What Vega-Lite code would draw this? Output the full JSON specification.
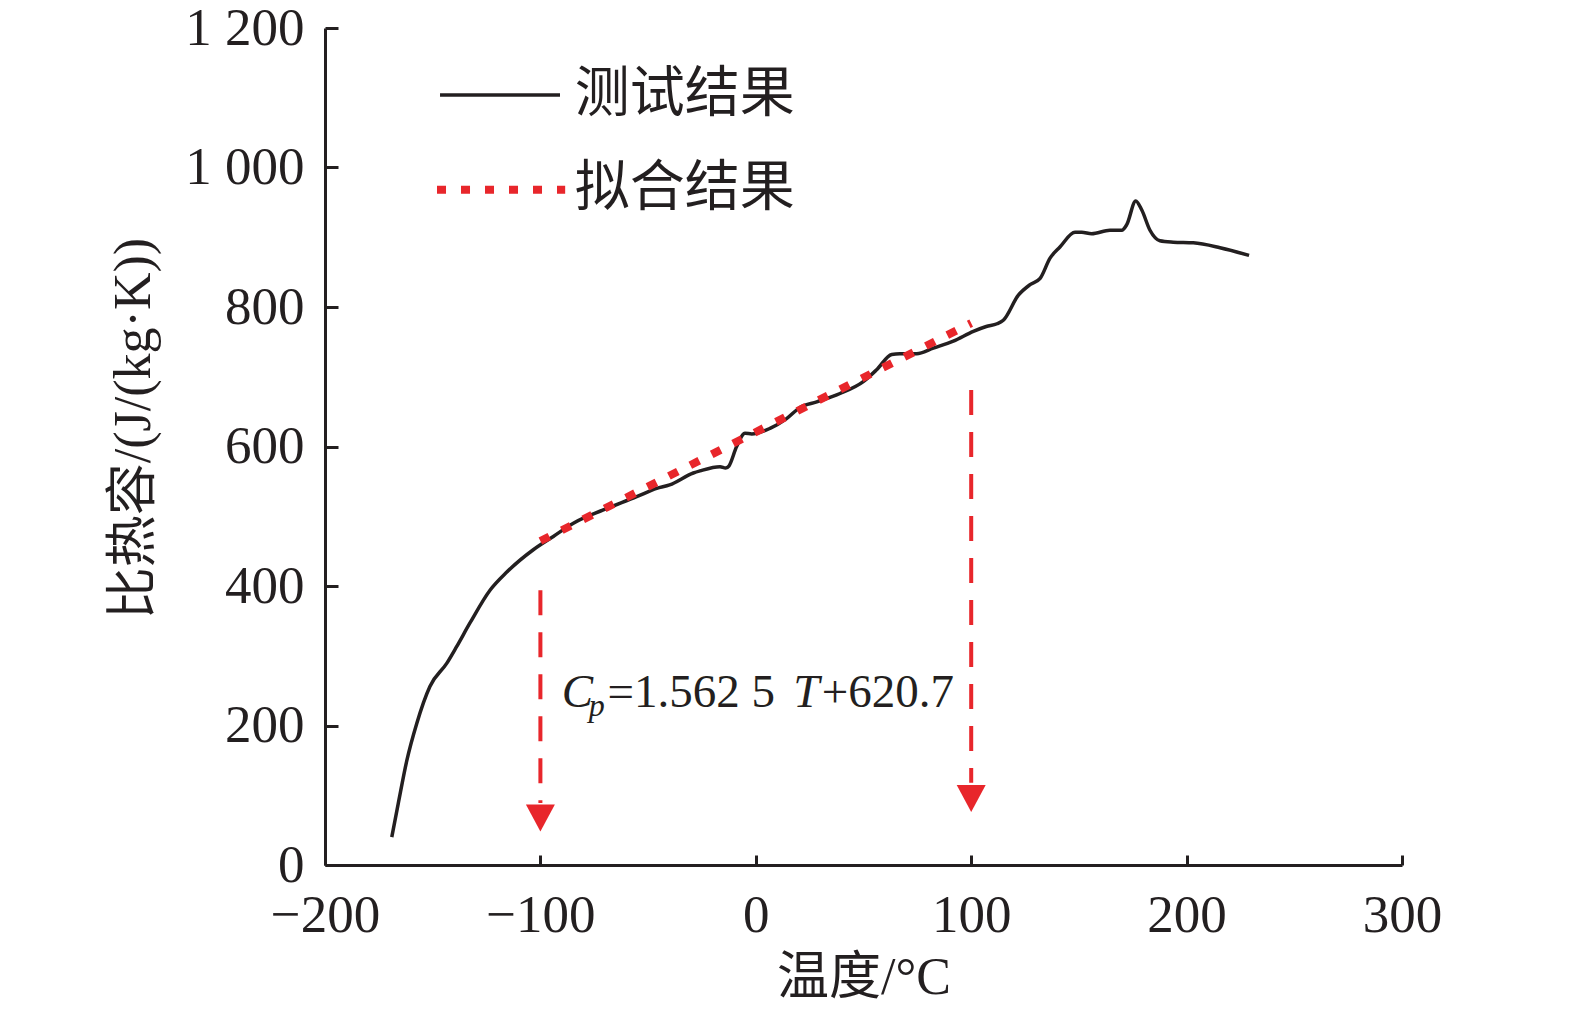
{
  "$schema": "https://vega.github.io/schema/vega-lite/v6.json",
  "autosize": "none",
  "width": 1077,
  "height": 837,
  "padding": {"left": 325, "top": 28, "right": 173, "bottom": 148},
  "background": "white",
  "datasets": {
    "measured": [
      {"T": -169, "Cp": 40}, {"T": -166, "Cp": 88}, {"T": -162, "Cp": 150},
      {"T": -157.4, "Cp": 203}, {"T": -151.3, "Cp": 256}, {"T": -143.5, "Cp": 289},
      {"T": -138.9, "Cp": 313}, {"T": -132.7, "Cp": 347}, {"T": -123.4, "Cp": 394},
      {"T": -115.6, "Cp": 420}, {"T": -103.3, "Cp": 452}, {"T": -94, "Cp": 471},
      {"T": -84.7, "Cp": 490}, {"T": -70.8, "Cp": 509}, {"T": -55.3, "Cp": 528},
      {"T": -46, "Cp": 540}, {"T": -40, "Cp": 545}, {"T": -29, "Cp": 562},
      {"T": -25.9, "Cp": 565}, {"T": -16.6, "Cp": 571}, {"T": -14, "Cp": 569},
      {"T": -12.5, "Cp": 572}, {"T": -8.9, "Cp": 600}, {"T": -5, "Cp": 619},
      {"T": -1.9, "Cp": 618}, {"T": 6.6, "Cp": 626}, {"T": 14.3, "Cp": 640},
      {"T": 20.5, "Cp": 656}, {"T": 28.3, "Cp": 664}, {"T": 39.1, "Cp": 676},
      {"T": 49.9, "Cp": 693}, {"T": 56.1, "Cp": 710}, {"T": 63.1, "Cp": 732},
      {"T": 66.9, "Cp": 733}, {"T": 74.7, "Cp": 733}, {"T": 82.4, "Cp": 741},
      {"T": 91.7, "Cp": 751}, {"T": 101, "Cp": 765}, {"T": 107, "Cp": 772},
      {"T": 112, "Cp": 776}, {"T": 114.9, "Cp": 781}, {"T": 121.9, "Cp": 817},
      {"T": 127.3, "Cp": 832}, {"T": 132, "Cp": 841}, {"T": 136.6, "Cp": 870},
      {"T": 141.2, "Cp": 886}, {"T": 148.2, "Cp": 907}, {"T": 151.3, "Cp": 907},
      {"T": 155.9, "Cp": 905}, {"T": 164.4, "Cp": 910}, {"T": 169.9, "Cp": 910},
      {"T": 172.2, "Cp": 918}, {"T": 176.4, "Cp": 952}, {"T": 179.2, "Cp": 939},
      {"T": 183, "Cp": 910}, {"T": 187.6, "Cp": 895}, {"T": 193.8, "Cp": 893},
      {"T": 203.1, "Cp": 892}, {"T": 215.5, "Cp": 885}, {"T": 229, "Cp": 874}
    ],
    "fit": [
      {"T": -100, "Cp": 464.45},
      {"T": 100, "Cp": 776.95}
    ],
    "arrows": [
      {"T": -100, "Cp": 394, "Cp2": 89, "tip": 48},
      {"T": 100, "Cp": 681, "Cp2": 118, "tip": 76}
    ],
    "legendSolid": [{"T": -146.6, "T2": -90.9, "Cp": 1104}],
    "legendDotted": [{"T": -148, "T2": -88.5, "Cp": 968}],
    "legendText": [
      {"T": -84, "Cp": 1106, "label": "测试结果"},
      {"T": -84, "Cp": 970, "label": "拟合结果"}
    ],
    "eqUpright": [
      {"T": -68.9, "Cp": 227, "label": "=1.562 5"},
      {"T": 30.6, "Cp": 227, "label": "+620.7"}
    ],
    "eqItalic": [
      {"T": -90.1, "Cp": 227, "label": "C"},
      {"T": 17.4, "Cp": 227, "label": "T"}
    ],
    "eqSub": [{"T": -77.6, "Cp": 214, "label": "p"}]
  },
  "encoding": {
    "x": {
      "field": "T",
      "type": "quantitative",
      "scale": {"domain": [-200, 300], "nice": false, "zero": false},
      "axis": {
        "title": "温度/°C",
        "values": [-200, -100, 0, 100, 200, 300],
        "grid": false,
        "tickSize": -10,
        "labelFlush": false,
        "labelPadding": 34,
        "titlePadding": 10
      }
    },
    "y": {
      "field": "Cp",
      "type": "quantitative",
      "scale": {"domain": [0, 1200], "nice": false},
      "axis": {
        "title": "比热容/(J/(kg·K))",
        "values": [0, 200, 400, 600, 800, 1000, 1200],
        "grid": false,
        "tickSize": -13,
        "labelFlush": false,
        "labelPadding": 34,
        "titlePadding": 24,
        "titleY": 400,
        "labelExpr": "datum.value >= 1000 ? '1 ' + format(datum.value - 1000, '03d') : datum.label"
      }
    }
  },
  "layer": [
    {
      "data": {"name": "measured"},
      "mark": {"type": "line", "color": "#231f20", "strokeWidth": 3.5, "interpolate": "monotone"}
    },
    {
      "data": {"name": "fit"},
      "mark": {"type": "line", "color": "#e8262b", "strokeWidth": 8, "strokeDash": [10, 14], "strokeCap": "butt"}
    },
    {
      "data": {"name": "arrows"},
      "mark": {"type": "rule", "color": "#e8262b", "strokeWidth": 4, "strokeDash": [25, 17]},
      "encoding": {"y2": {"field": "Cp2"}}
    },
    {
      "data": {"name": "arrows"},
      "mark": {"type": "point", "shape": "M-1,-1.86L1,-1.86L0,0Z", "filled": true, "color": "#e8262b", "opacity": 1, "size": 840},
      "encoding": {"y": {"field": "tip", "type": "quantitative"}}
    },
    {
      "data": {"name": "legendSolid"},
      "mark": {"type": "rule", "color": "#231f20", "strokeWidth": 3.5},
      "encoding": {"x2": {"field": "T2"}}
    },
    {
      "data": {"name": "legendDotted"},
      "mark": {"type": "rule", "color": "#e8262b", "strokeWidth": 8, "strokeDash": [9, 15], "strokeCap": "butt"},
      "encoding": {"x2": {"field": "T2"}}
    },
    {
      "data": {"name": "legendText"},
      "mark": {"type": "text", "align": "left", "baseline": "middle", "fontSize": 55, "font": "Noto Sans CJK SC", "color": "#231f20"},
      "encoding": {"text": {"field": "label"}}
    },
    {
      "data": {"name": "eqUpright"},
      "mark": {"type": "text", "align": "left", "baseline": "alphabetic", "fontSize": 47, "font": "Liberation Serif", "color": "#231f20"},
      "encoding": {"text": {"field": "label"}}
    },
    {
      "data": {"name": "eqItalic"},
      "mark": {"type": "text", "align": "left", "baseline": "alphabetic", "fontSize": 47, "font": "Liberation Serif", "fontStyle": "italic", "color": "#231f20"},
      "encoding": {"text": {"field": "label"}}
    },
    {
      "data": {"name": "eqSub"},
      "mark": {"type": "text", "align": "left", "baseline": "alphabetic", "fontSize": 32, "font": "Liberation Serif", "fontStyle": "italic", "color": "#231f20"},
      "encoding": {"text": {"field": "label"}}
    }
  ],
  "config": {
    "view": {"stroke": null},
    "axis": {
      "domainColor": "#231f20",
      "domainWidth": 3,
      "tickColor": "#231f20",
      "tickWidth": 3,
      "labelFont": "Liberation Serif",
      "labelFontSize": 53,
      "labelColor": "#231f20",
      "titleFont": "Liberation Serif, Noto Sans CJK SC",
      "titleFontSize": 52,
      "titleFontWeight": "normal",
      "titleColor": "#231f20"
    }
  }
}
